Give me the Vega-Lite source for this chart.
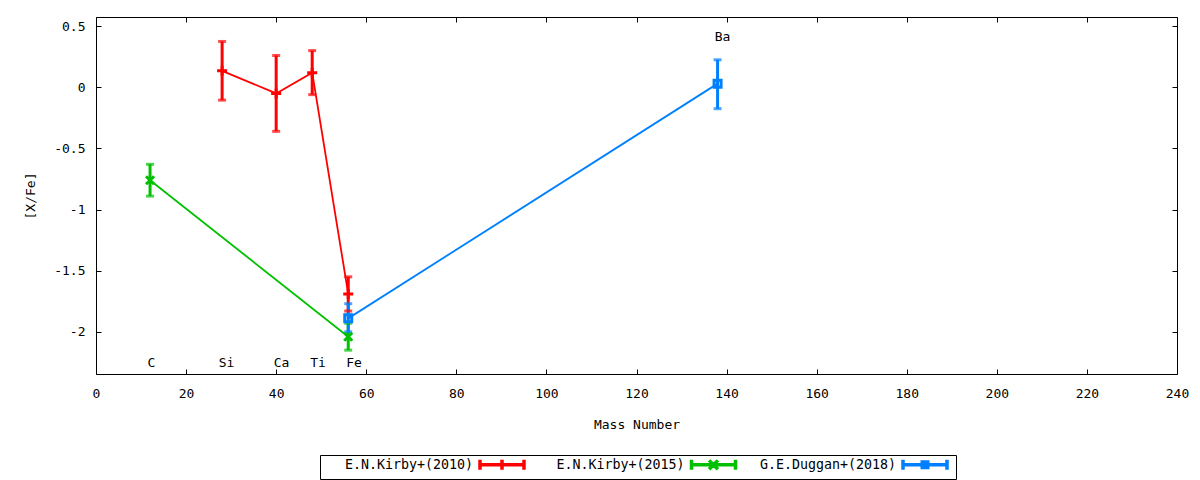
{
  "$schema": "https://vega.github.io/schema/vega-lite/v6.json",
  "width": 1081,
  "height": 357,
  "autosize": "none",
  "padding": {"left": 96, "top": 17, "right": 23, "bottom": 106},
  "background": "white",
  "datasets": {
    "abund": [
      {"series": "E.N.Kirby+(2010)", "elem": "Si", "mass": 28, "xfe": 0.135, "lo": -0.105, "hi": 0.375},
      {"series": "E.N.Kirby+(2010)", "elem": "Ca", "mass": 40, "xfe": -0.05, "lo": -0.36, "hi": 0.26},
      {"series": "E.N.Kirby+(2010)", "elem": "Ti", "mass": 48, "xfe": 0.12, "lo": -0.06, "hi": 0.30},
      {"series": "E.N.Kirby+(2010)", "elem": "Fe", "mass": 56, "xfe": -1.69, "lo": -1.83, "hi": -1.55},
      {"series": "E.N.Kirby+(2015)", "elem": "C", "mass": 12, "xfe": -0.76, "lo": -0.89, "hi": -0.63},
      {"series": "E.N.Kirby+(2015)", "elem": "Fe", "mass": 56, "xfe": -2.04, "lo": -2.15, "hi": -1.93},
      {"series": "G.E.Duggan+(2018)", "elem": "Fe", "mass": 56, "xfe": -1.89, "lo": -2.0, "hi": -1.77},
      {"series": "G.E.Duggan+(2018)", "elem": "Ba", "mass": 138, "xfe": 0.03, "lo": -0.175, "hi": 0.225}
    ],
    "labels": [
      {"elem": "C", "x": 12.3, "y": -2.254},
      {"elem": "Si", "x": 29, "y": -2.254},
      {"elem": "Ca", "x": 41.2, "y": -2.254},
      {"elem": "Ti", "x": 49.3, "y": -2.254},
      {"elem": "Fe", "x": 57.3, "y": -2.254},
      {"elem": "Ba", "x": 139.1, "y": 0.408}
    ]
  },
  "config": {
    "font": "DejaVu Sans Mono",
    "view": {"stroke": "black", "strokeWidth": 1},
    "axis": {
      "grid": false,
      "domain": false,
      "labelFont": "DejaVu Sans Mono",
      "labelFontSize": 13,
      "labelColor": "black",
      "titleFont": "DejaVu Sans Mono",
      "titleFontSize": 13,
      "titleFontWeight": "normal",
      "titleColor": "black",
      "tickColor": "black"
    },
    "legend": {
      "orient": "none", "legendX": 224, "legendY": 438,
      "direction": "horizontal", "title": null,
      "strokeColor": "black", "padding": 2,
      "labelFont": "DejaVu Sans Mono", "labelFontSize": 13.3, "labelColor": "black",
      "labelAlign": "right", "labelOffset": -36.5, "labelLimit": 300,
      "symbolSize": 121, "symbolOffset": 172.5, "symbolStrokeWidth": 3.5, "symbolOpacity": 1,
      "columnPadding": 2.5, "gridAlign": "all"
    }
  },
  "resolve": {"axis": {"x": "independent", "y": "independent"}},
  "layer": [
    {
      "data": {"name": "abund"},
      "mark": {"type": "point", "filled": false, "opacity": 0, "strokeWidth": 3},
      "encoding": {
        "x": {
          "field": "mass", "type": "quantitative",
          "scale": {"domain": [0, 240], "nice": false, "zero": false},
          "axis": {"values": [0, 20, 40, 60, 80, 100, 120, 140, 160, 180, 200, 220, 240], "ticks": false, "labelPadding": 13, "title": "Mass Number", "titlePadding": 18, "labelFlush": false}
        },
        "y": {
          "field": "xfe", "type": "quantitative",
          "scale": {"domain": [-2.345, 0.575], "nice": false, "zero": false},
          "axis": {"values": [0.5, 0, -0.5, -1, -1.5, -2], "ticks": false, "labelPadding": 11, "labelExpr": "'' + datum.value", "title": "[X/Fe]", "titlePadding": 16}
        },
        "color": {
          "field": "series", "type": "nominal",
          "scale": {"domain": ["E.N.Kirby+(2010)", "E.N.Kirby+(2015)", "G.E.Duggan+(2018)"], "range": ["#ff0000", "#00c000", "#0080ff"]}
        },
        "shape": {
          "field": "series", "type": "nominal",
          "scale": {"domain": ["E.N.Kirby+(2010)", "E.N.Kirby+(2015)", "G.E.Duggan+(2018)"], "range": [
            "M-4,0H4M-4,-0.9V0.9M4,-0.9V0.9M0,-0.9V0.9",
            "M-4,0H4M-4,-0.9V0.9M4,-0.9V0.9M-0.8,-0.8L0.8,0.8M-0.8,0.8L0.8,-0.8",
            "M-4,0H4M-4,-0.9V0.9M4,-0.9V0.9M-0.5,-0.5H0.5V0.5H-0.5Z"
          ]}
        }
      }
    },
    {
      "data": {"name": "abund"},
      "mark": {"type": "line", "strokeWidth": 1.8},
      "encoding": {
        "x": {"field": "mass", "type": "quantitative", "axis": null},
        "y": {"field": "xfe", "type": "quantitative", "axis": null},
        "color": {"field": "series", "type": "nominal"}
      }
    },
    {
      "data": {"name": "abund"},
      "mark": {"type": "rule", "strokeWidth": 3},
      "encoding": {
        "x": {"field": "mass", "type": "quantitative", "axis": {"orient": "bottom", "values": [0, 20, 40, 60, 80, 100, 120, 140, 160, 180, 200, 220, 240], "labels": false, "title": null, "tickSize": -5}},
        "y": {"field": "lo", "type": "quantitative", "axis": {"orient": "left", "values": [0.5, 0, -0.5, -1, -1.5, -2], "labels": false, "title": null, "tickSize": -5}},
        "y2": {"field": "hi"},
        "color": {"field": "series", "type": "nominal"}
      }
    },
    {
      "data": {"name": "abund"},
      "mark": {"type": "tick", "orient": "horizontal", "size": 8, "thickness": 3},
      "encoding": {
        "x": {"field": "mass", "type": "quantitative", "axis": null},
        "y": {"field": "lo", "type": "quantitative", "axis": null},
        "color": {"field": "series", "type": "nominal"}
      }
    },
    {
      "data": {"name": "abund"},
      "mark": {"type": "tick", "orient": "horizontal", "size": 8, "thickness": 3},
      "encoding": {
        "x": {"field": "mass", "type": "quantitative", "axis": null},
        "y": {"field": "hi", "type": "quantitative", "axis": null},
        "color": {"field": "series", "type": "nominal"}
      }
    },
    {
      "data": {"name": "abund"},
      "transform": [{"filter": "datum.series === 'E.N.Kirby+(2010)'"}],
      "mark": {"type": "point", "shape": "M-1,0H1M0,-1V1", "size": 100, "filled": false, "strokeWidth": 3, "opacity": 1},
      "encoding": {
        "x": {"field": "mass", "type": "quantitative", "axis": null},
        "y": {"field": "xfe", "type": "quantitative", "axis": null},
        "color": {"field": "series", "type": "nominal"}
      }
    },
    {
      "data": {"name": "abund"},
      "transform": [{"filter": "datum.series === 'E.N.Kirby+(2015)'"}],
      "mark": {"type": "point", "shape": "M-0.8,-0.8L0.8,0.8M-0.8,0.8L0.8,-0.8", "size": 100, "filled": false, "strokeWidth": 3, "opacity": 1},
      "encoding": {
        "x": {"field": "mass", "type": "quantitative", "axis": null},
        "y": {"field": "xfe", "type": "quantitative", "axis": null},
        "color": {"field": "series", "type": "nominal"}
      }
    },
    {
      "data": {"name": "abund"},
      "transform": [{"filter": "datum.series === 'G.E.Duggan+(2018)'"}],
      "mark": {"type": "point", "shape": "M-0.7,-0.7H0.7V0.7H-0.7Z", "size": 100, "filled": false, "strokeWidth": 3, "opacity": 1},
      "encoding": {
        "x": {"field": "mass", "type": "quantitative", "axis": null},
        "y": {"field": "xfe", "type": "quantitative", "axis": null},
        "color": {"field": "series", "type": "nominal"}
      }
    },
    {
      "data": {"name": "labels"},
      "mark": {"type": "text", "font": "DejaVu Sans Mono", "fontSize": 13, "align": "center", "baseline": "middle", "color": "black"},
      "encoding": {
        "x": {"field": "x", "type": "quantitative", "axis": {"orient": "top", "values": [0, 20, 40, 60, 80, 100, 120, 140, 160, 180, 200, 220, 240], "labels": false, "title": null, "tickSize": -5}},
        "y": {"field": "y", "type": "quantitative", "axis": {"orient": "right", "values": [0.5, 0, -0.5, -1, -1.5, -2], "labels": false, "title": null, "tickSize": -5}},
        "text": {"field": "elem"}
      }
    }
  ]
}
